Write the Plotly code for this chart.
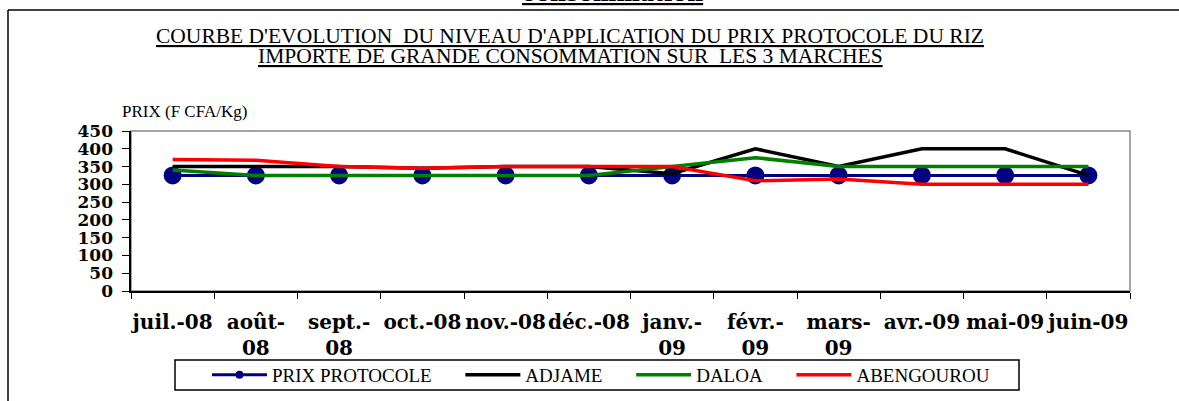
import plotly.graph_objects as go

months = ["juil.-08", "août-<br>08", "sept.-<br>08", "oct.-08", "nov.-08", "déc.-08",
          "janv.-<br>09", "févr.-<br>09", "mars-<br>09", "avr.-09", "mai-09", "juin-09"]
prix_protocole = [325, 325, 325, 325, 325, 325, 325, 325, 325, 325, 325, 325]
adjame = [350, 350, 350, 345, 350, 350, 330, 400, 350, 400, 400, 325]
daloa = [340, 325, 325, 325, 325, 325, 350, 375, 350, 350, 350, 350]
abengourou = [370, 368, 350, 345, 350, 350, 350, 310, 315, 300, 300, 300]
y_ticks = [0, 50, 100, 150, 200, 250, 300, 350, 400, 450]

SERIF_B = "DejaVu Serif"
SERIF = "Liberation Serif"
# page pixels (body margin removed below)
W, H = 1179, 401
ML = 90                      # left edge of the paper region
L, R, T, B = 131, 1130, 131, 291   # plot area
PAD = "\u00a0" * 5


def px(x):
    return (x - ML) / (R - ML)


def py(y):
    return (B - y) / (B - T)


fig = go.Figure()
fig.add_trace(go.Scatter(x=months, y=prix_protocole, name="PRIX PROTOCOLE" + PAD,
                         mode="lines+markers",
                         line=dict(color="#000080", width=3),
                         marker=dict(color="#000080", size=8, symbol="circle")))
fig.add_trace(go.Scatter(x=months, y=prix_protocole, name="PRIX PROTOCOLE", mode="markers",
                         showlegend=False,
                         marker=dict(color="#000080", size=18, symbol="circle")))
fig.add_trace(go.Scatter(x=months, y=adjame, name="ADJAME" + PAD, mode="lines",
                         line=dict(color="#000000", width=3.5)))
fig.add_trace(go.Scatter(x=months, y=daloa, name="DALOA" + PAD, mode="lines",
                         line=dict(color="#008000", width=3.5)))
fig.add_trace(go.Scatter(x=months, y=abengourou, name="ABENGOUROU", mode="lines", yaxis="y2",
                         line=dict(color="#FF0000", width=3.5)))

fig.update_layout(
    width=W, height=H,
    margin=dict(l=ML, r=W - R, t=T, b=H - B, autoexpand=False),
    paper_bgcolor="white", plot_bgcolor="white",
    font=dict(family=SERIF, color="black"),
    showlegend=True,
    legend=dict(orientation="h", x=px(207), y=py(356), xanchor="left", yanchor="top",
                bgcolor="rgba(0,0,0,0)", borderwidth=0, itemwidth=55,
                font=dict(family=SERIF, size=19, color="black")),
    xaxis=dict(type="category", range=[-0.5, 11.5], domain=[px(L), 1],
               showgrid=False, zeroline=False,
               showline=True, linecolor="black", linewidth=1.5,
               ticks="outside", tickson="boundaries", ticklen=6, tickcolor="black",
               ticklabelstandoff=12,
               tickfont=dict(family=SERIF_B, size=20, color="black", weight="bold"),
               tickangle=0),
    yaxis=dict(range=[0, 450], tickvals=y_ticks, showgrid=False, zeroline=False,
               showline=True, linecolor="black", linewidth=1.5,
               ticks="outside", ticklen=7, tickcolor="black", showticklabels=False),
    yaxis2=dict(range=[0, 450], tickvals=y_ticks, overlaying="y", anchor="free",
                position=px(113), side="left", showgrid=False, zeroline=False,
                showline=False, ticks="",
                tickfont=dict(family=SERIF_B, size=17, color="black", weight="bold")),
)

# plot area gray frame
fig.add_shape(type="rect", xref="paper", yref="paper", x0=px(L), y0=0, x1=1, y1=1,
              line=dict(color="#888888", width=1.5), layer="below")
# legend box
fig.add_shape(type="rect", xref="paper", yref="paper", x0=px(175), y0=py(360), x1=px(1019), y1=py(390),
              line=dict(color="black", width=1.5))
# outer page frame
fig.add_shape(type="line", xref="paper", yref="paper", x0=px(8), y0=py(10), x1=px(1179), y1=py(10),
              line=dict(color="black", width=1.5))
fig.add_shape(type="line", xref="paper", yref="paper", x0=px(8), y0=py(10), x1=px(8), y1=py(401),
              line=dict(color="black", width=1.5))

title_lines = ["<u>COURBE D'EVOLUTION\u00a0 DU NIVEAU D'APPLICATION DU PRIX PROTOCOLE DU RIZ</u>",
               "<u>IMPORTE DE GRANDE CONSOMMATION SUR\u00a0 LES 3 MARCHES</u>"]
for txt, yy in zip(title_lines, [36, 56]):
    fig.add_annotation(text=txt, xref="paper", yref="paper", x=px(570), y=py(yy),
                       xanchor="center", yanchor="middle", showarrow=False,
                       font=dict(family=SERIF, size=21.5, color="black"))

fig.add_annotation(text="PRIX (F CFA/Kg)", xref="paper", yref="paper", x=px(120), y=py(111),
                   xanchor="left", yanchor="middle", showarrow=False,
                   font=dict(family=SERIF, size=17, color="black"))
fig.add_annotation(text="<b><u>consommation</u></b>", xref="paper", yref="paper", x=px(612), y=py(8),
                   xanchor="center", yanchor="bottom", showarrow=False,
                   font=dict(family=SERIF_B, size=22, color="black"))

fig.write_html("out.html", config={"displayModeBar": False},
               post_script="document.body.style.margin='0';")
